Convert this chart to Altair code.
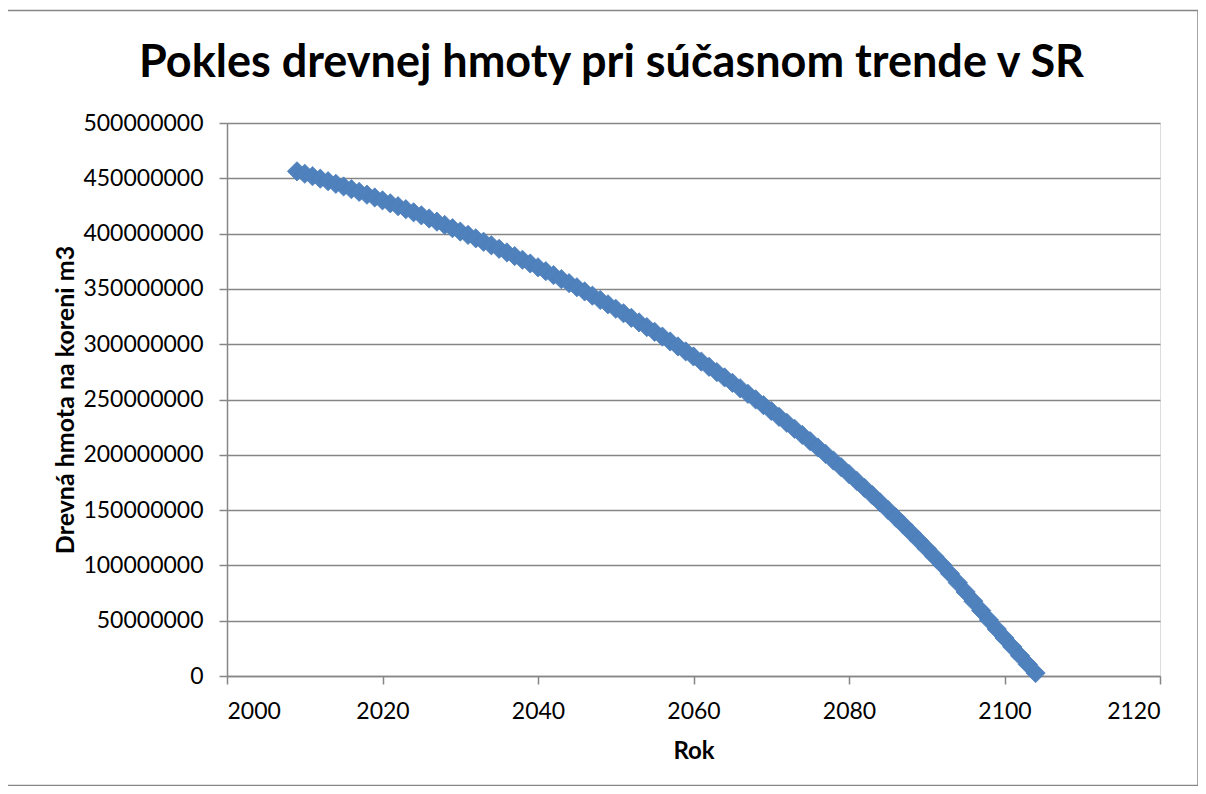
import altair as alt
import pandas as pd

# Year of each marker
years = list(range(2009, 2105))

# Wood volume on stump, in millions of m3
volume_mil = [
    456.30, 454.12, 451.90, 449.64, 447.34, 444.99, 442.60, 440.17, 437.71, 435.20,
    432.65, 430.05, 427.42, 424.75, 422.03, 419.27, 416.48, 413.64, 410.76, 407.83,
    404.87, 401.87, 398.82, 395.74, 392.61, 389.44, 386.23, 382.98, 379.69, 376.35,
    372.97, 369.53, 366.03, 362.48, 358.87, 355.21, 351.49, 347.71, 343.88, 339.99,
    336.05, 332.05, 327.99, 323.88, 319.71, 315.48, 311.20, 306.85, 302.45, 297.99,
    293.47, 288.90, 284.26, 279.57, 274.82, 270.00, 265.11, 260.16, 255.13, 250.04,
    244.87, 239.64, 234.34, 228.97, 223.52, 217.98, 212.34, 206.60, 200.75, 194.81,
    188.76, 182.62, 176.37, 170.01, 163.55, 156.97, 150.29, 143.49, 136.59, 129.57,
    122.45, 115.23, 107.90, 100.47, 92.47, 84.32, 76.02, 67.62, 59.17, 50.67,
    42.47, 34.37, 26.37, 18.37, 10.47, 2.67,
]

x_ticks = [2000, 2020, 2040, 2060, 2080, 2100, 2120]
y_ticks = [0, 50000000, 100000000, 150000000, 200000000, 250000000,
           300000000, 350000000, 400000000, 450000000, 500000000]

title_text = "Pokles drevnej hmoty pri súčasnom trende v SR"
x_title = "Rok"
y_title = "Drevná hmota na koreni m3"

df = pd.DataFrame({"rok": years, "hmota": [v * 1_000_000 for v in volume_mil]})

FONT = "Lato"
GRAY = "#868686"

points = alt.Chart(df).mark_point(
    shape="diamond", filled=True, size=370, color="#4F81BD",
    stroke="#4A7EBB", strokeWidth=0.8, opacity=1
).encode(
    x=alt.X("rok:Q", scale=alt.Scale(domain=[2000, 2120], nice=False, zero=False),
            axis=alt.Axis(values=x_ticks, format="d", grid=False,
                          title=x_title, titleFont=FONT, titleFontSize=24,
                          titleFontWeight="bold", titleColor="black",
                          titleBaseline="alphabetic", titleY=82,
                          labelFont=FONT, labelFontSize=23, labelColor="black",
                          labelPadding=16, tickSize=8, tickColor=GRAY, tickWidth=1.5,
                          domainColor=GRAY, domainWidth=1.5)),
    y=alt.Y("hmota:Q", scale=alt.Scale(domain=[0, 500000000], nice=False),
            axis=alt.Axis(values=y_ticks, format="d", grid=True,
                          gridColor=GRAY, gridWidth=1.5,
                          title=y_title, titleFont=FONT, titleFontSize=25,
                          titleFontWeight="bold", titleColor="black",
                          titleBaseline="alphabetic", titleX=-154,
                          labelFont=FONT, labelFontSize=23, labelColor="black",
                          labelPadding=16, tickSize=8, tickColor=GRAY, tickWidth=1.5,
                          domainColor=GRAY, domainWidth=1.5)),
)

frame = alt.Chart(pd.DataFrame({"a": [0]})).mark_rect(
    fillOpacity=0, stroke=GRAY, strokeWidth=1.5
).encode(
    x=alt.value(-220), x2=alt.value(971), y=alt.value(-112.5), y2=alt.value(662.5)
)

title = alt.Chart(pd.DataFrame({"t": [title_text]})).mark_text(
    font=FONT, fontSize=45, fontWeight="bold", color="black",
    align="center", baseline="alphabetic"
).encode(
    text="t:N", x=alt.value(384.5), y=alt.value(-46.5)
)

chart = alt.layer(frame, title, points).properties(
    width=933, height=553,
    padding={"left": 219, "top": 115, "right": 38, "bottom": 110},
    autosize=alt.AutoSizeParams(type="none"),
).configure_view(strokeWidth=0).configure(background="white")

chart.save("out.html", embed_options={"renderer": "svg", "actions": False})
